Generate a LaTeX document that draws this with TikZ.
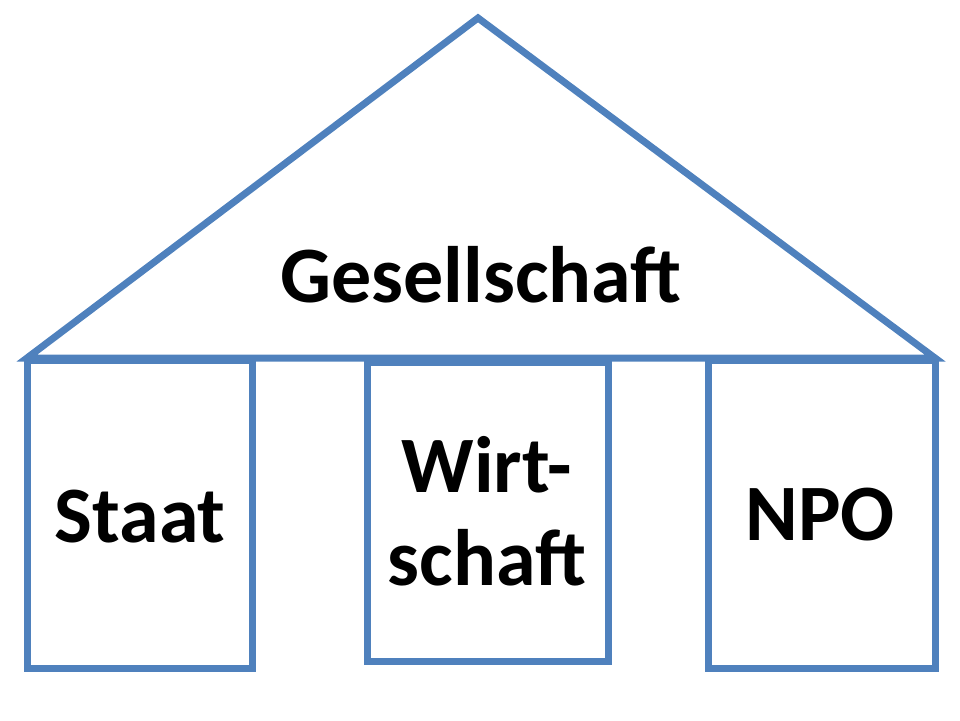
\documentclass[tikz,border=0pt]{standalone}
\usepackage{fontspec}
\setmainfont{Carlito}
\begin{document}
\begin{tikzpicture}[x=1pt,y=-1pt,
  edge/.style={draw=frameblue,line width=7pt,line join=miter},
  lbl/.style={font=\fontsize{80}{93}\selectfont\bfseries,inner sep=0pt,anchor=base,align=center}]
\definecolor{frameblue}{HTML}{4F81BD}
\useasboundingbox (0,0) rectangle (960,720);
\coordinate (apex) at (478,18);
\coordinate (bl) at (27,358);
\coordinate (br) at (935,358);
\draw[edge] (bl) -- (apex) -- (br) -- cycle;
\draw[edge] (27,360) rectangle (252,668);
\draw[edge] (367,362) rectangle (608,661);
\draw[edge] (708,360) rectangle (935,668);
\node[lbl] (ges) at (481,302) {Gesellschaft};
\node[lbl] (staat) at (140,542) {Staat};
\node[lbl] (wirt) at (487,492) {Wirt-};
\node[lbl] (schaft) at (487,585) {schaft};
\node[lbl] (npo) at (820,540) {NPO};
\end{tikzpicture}
\end{document}
